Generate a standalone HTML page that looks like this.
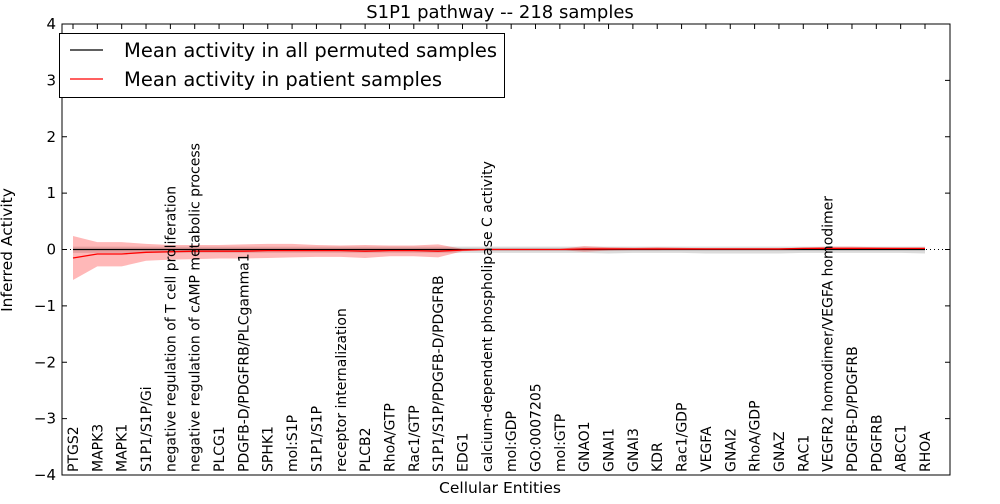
<!DOCTYPE html>
<html><head><meta charset="utf-8"><style>
body{margin:0;background:#fff;font-family:"DejaVu Sans",sans-serif}
svg text{font-family:"DejaVu Sans",sans-serif}
</style></head><body>
<svg id="chart" width="1000" height="500" xmlns="http://www.w3.org/2000/svg"></svg>
<script>
const categories=["PTGS2","MAPK3","MAPK1","S1P1/S1P/Gi","negative regulation of T cell proliferation","negative regulation of cAMP metabolic process","PLCG1","PDGFB-D/PDGFRB/PLCgamma1","SPHK1","mol:S1P","S1P1/S1P","receptor internalization","PLCB2","RhoA/GTP","Rac1/GTP","S1P1/S1P/PDGFB-D/PDGFRB","EDG1","calcium-dependent phospholipase C activity","mol:GDP","GO:0007205","mol:GTP","GNAO1","GNAI1","GNAI3","KDR","Rac1/GDP","VEGFA","GNAI2","RhoA/GDP","GNAZ","RAC1","VEGFR2 homodimer/VEGFA homodimer","PDGFB-D/PDGFRB","PDGFRB","ABCC1","RHOA"];
const patientMean=[-0.15,-0.08,-0.08,-0.05,-0.04,-0.03,-0.03,-0.03,-0.02,-0.02,-0.02,-0.02,-0.03,-0.02,-0.02,-0.03,-0.01,0,0,0,0,0.01,0.01,0.01,0.01,0.01,0.01,0.01,0.01,0.01,0.02,0.02,0.02,0.02,0.02,0.02];
const patientUpper=[0.24,0.13,0.13,0.1,0.08,0.08,0.08,0.09,0.1,0.1,0.08,0.07,0.08,0.07,0.07,0.09,0.01,0.01,0.01,0.01,0.01,0.06,0.04,0.03,0.04,0.03,0.02,0.02,0.02,0.02,0.03,0.05,0.05,0.04,0.03,0.03];
const patientLower=[-0.54,-0.3,-0.3,-0.2,-0.18,-0.17,-0.16,-0.16,-0.15,-0.14,-0.13,-0.13,-0.15,-0.12,-0.12,-0.14,-0.03,-0.01,-0.01,-0.01,-0.01,-0.04,-0.02,-0.01,-0.01,0,0,0,0,0,0,0,0,0,0,0];
const permMean=[0,0,0,0,0,0,0,0,0,0,0,0,0,0,0,0,0,0,0,0,0,0,0,0,0,0,0,0,0,0,0,0,0,0,0,0];
const permUpper=[0.05,0.05,0.05,0.05,0.05,0.05,0.05,0.05,0.05,0.05,0.05,0.05,0.05,0.05,0.05,0.05,0.05,0.05,0.05,0.05,0.05,0.05,0.05,0.05,0.05,0.05,0.05,0.05,0.05,0.05,0.05,0.05,0.05,0.05,0.05,0.05];
const permLower=[-0.06,-0.06,-0.06,-0.06,-0.06,-0.06,-0.06,-0.06,-0.06,-0.06,-0.06,-0.06,-0.06,-0.06,-0.06,-0.06,-0.06,-0.06,-0.06,-0.06,-0.06,-0.06,-0.07,-0.06,-0.06,-0.06,-0.07,-0.07,-0.07,-0.07,-0.06,-0.06,-0.06,-0.06,-0.06,-0.07];
const yTicks=[4,3,2,1,0,-1,-2,-3,-4];
const yTickLabels=["4","3","2","1","0","\u22121","\u22122","\u22123","\u22124"];

const L=62,R=950,T=24,B=475;
const X=i=>73+i*((925-73)/(categories.length-1));
const Y=v=>T+(4-v)/8*(B-T);
const svg=document.getElementById('chart');
const NS='http://www.w3.org/2000/svg';
function mk(tag,attrs,parent){const e=document.createElementNS(NS,tag);for(const k in attrs)e.setAttribute(k,attrs[k]);(parent||svg).appendChild(e);return e;}

function band(up,lo,fill,op,name){
  let d='M'+up.map((v,i)=>X(i)+','+Y(v)).join('L');
  for(let i=lo.length-1;i>=0;i--)d+='L'+X(i)+','+Y(lo[i]);
  const p=mk('path',{d:d+'Z',fill:fill,'fill-opacity':op,stroke:'none'});
  
  
}
function line(vals,col,name,extra){
  const p=mk('polyline',Object.assign({points:vals.map((v,i)=>X(i)+','+Y(v)).join(' '),fill:'none',stroke:col,'stroke-width':1.3},extra||{}));
  
  
}
band(permUpper,permLower,'#999',0.35,'permuted-band');
band(patientUpper,patientLower,'#f33',0.35,'patient-band');
line(permMean,'#000','permuted-mean-line');
const zl=mk('line',{x1:L,x2:R,y1:Y(0),y2:Y(0),stroke:'#000','stroke-dasharray':'1,3','stroke-width':1});


line(patientMean,'#f00','patient-mean-line');

const frame=mk('rect',{x:L,y:T,width:R-L,height:B-T,fill:'none',stroke:'#000','stroke-width':1});



yTicks.forEach((v,i)=>{
  const y=Y(v);
  mk('line',{x1:L,x2:L+5,y1:y,y2:y,stroke:'#000'});
  mk('line',{x1:R-5,x2:R,y1:y,y2:y,stroke:'#000'});
  const t=mk('text',{x:L-6,y:y+5,'text-anchor':'end','font-size':15});
  t.textContent=yTickLabels[i];
  
  
});
categories.forEach((c,i)=>{
  const x=X(i);
  mk('line',{x1:x,x2:x,y1:T,y2:T+5,stroke:'#000'});
  const t=mk('text',{x:0,y:0,transform:`translate(${x+5},${B-3}) rotate(-90)`,'font-size':14});
  t.textContent=c;
  
  
});
const title=mk('text',{x:500,y:18,'text-anchor':'middle','font-size':18});
title.textContent='S1P1 pathway -- 218 samples';


const xt=mk('text',{x:500,y:493,'text-anchor':'middle','font-size':15.5});
xt.textContent='Cellular Entities';


const yt=mk('text',{x:0,y:0,transform:'translate(12,250) rotate(-90)','text-anchor':'middle','font-size':15.5});
yt.textContent='Inferred Activity';



const lg=mk('g',{});


mk('rect',{x:59.5,y:33.5,width:445,height:64,fill:'#fff',stroke:'#000'},lg);
mk('line',{x1:70,x2:103,y1:50,y2:50,stroke:'#000','stroke-width':1.3},lg);
mk('line',{x1:70,x2:103,y1:79,y2:79,stroke:'#f00','stroke-width':1.3},lg);
const l1=mk('text',{x:124,y:57,'font-size':19.5},lg);
l1.textContent='Mean activity in all permuted samples';


const l2=mk('text',{x:124,y:86,'font-size':19.5},lg);
l2.textContent='Mean activity in patient samples';


</script>
</body></html>
